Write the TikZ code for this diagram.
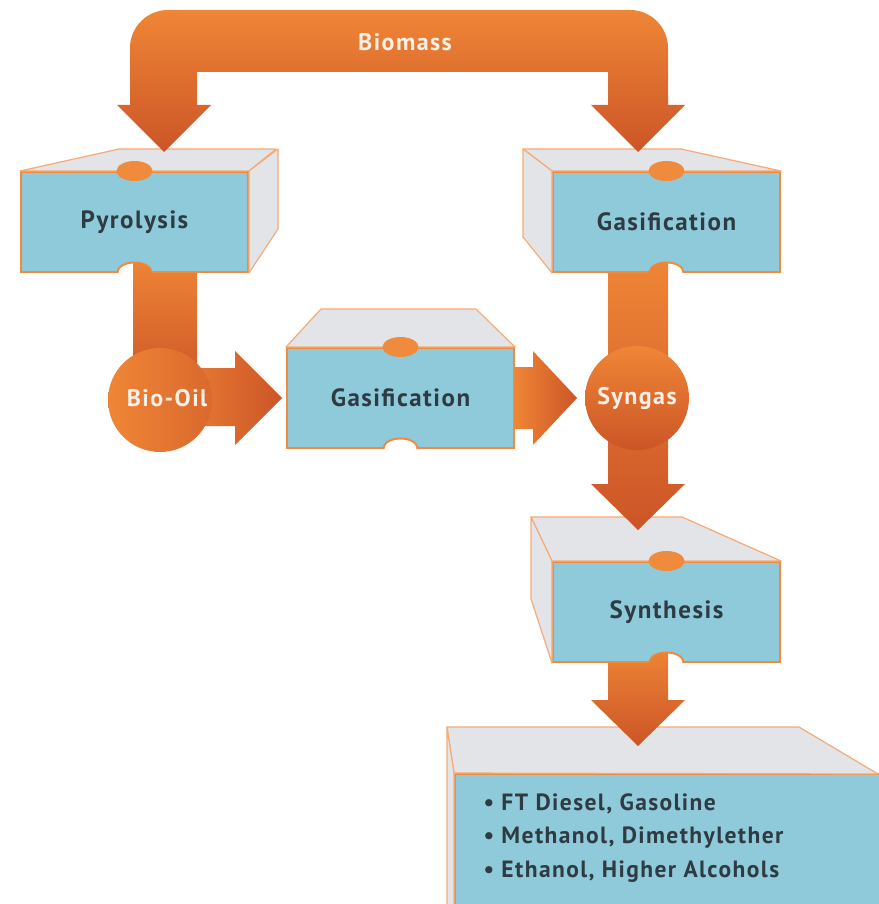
\documentclass[tikz,border=0pt]{standalone}
\usepackage{fontspec}
\setmainfont{PT Sans}
\newfontfamily\labelfont{PT Sans}[LetterSpace=6]
\usetikzlibrary{arrows,positioning,shapes,calc}

\definecolor{boxblue}{HTML}{8FCADA}
\definecolor{topgray}{HTML}{E2E4E7}
\definecolor{edgeorange}{HTML}{F08A3C}
\definecolor{lightedge}{HTML}{F5AB78}
\definecolor{flowtop}{HTML}{EF8636}
\definecolor{flowbot}{HTML}{CC5527}
\definecolor{labelgray}{HTML}{2F3B43}
\definecolor{flowtext}{HTML}{FBEFE6}

\tikzset{
	stage/.style={draw=edgeorange, line width=2pt, fill=boxblue, minimum width=227pt, minimum height=100pt,
		text=labelgray, font=\labelfont\bfseries\fontsize{25}{30}\selectfont},
	face/.style={draw=lightedge, line width=1.2pt, fill=topgray, line join=round},
	flowv/.style={top color=flowtop, bottom color=flowbot},
	flowh/.style={left color=flowtop, right color=flowbot},
	flowlabel/.style={text=flowtext, font=\labelfont\bfseries\fontsize{24}{28}\selectfont},
	hub/.style={circle, minimum size=104pt, inner sep=0pt, flowlabel},
	plug/.style={fill=edgeorange},
	bump/.style={draw=edgeorange, line width=2pt, fill=white}
}

\begin{document}
\begin{tikzpicture}[x=1pt,y=-1pt]
	\useasboundingbox (0,0) rectangle (878,904);

	% process boxes
	\node (pyro)  [stage] at (134.5,222) {Pyrolysis};
	\node (gasR)  [stage] at (666.5,222) {Gasification};
	\node (gasM)  [stage] at (400.5,398) {Gasification};
	\node (synth) [stage] at (666.5,612) {Synthesis};
	\node (fuels) [stage, minimum width=455pt, minimum height=160pt] at (682.5,854) {};
	\node (list) [anchor=west, align=left, text=labelgray, font=\labelfont\bfseries\fontsize{23.5}{33.5}\selectfont]
		at (480,838) {\textbullet\ FT Diesel, Gasoline\\ \textbullet\ Methanol, Dimethylether\\ \textbullet\ Ethanol, Higher Alcohols};

	% top and side faces
	\draw [face] (pyro.north west) -- ++(99,-22) -- ++(157,0) -- (pyro.north east) -- cycle;
	\draw [face] (pyro.north east) -- ++(29,-22) -- ++(0,80) -- (pyro.south east) -- cycle;
	\draw [face] (gasR.north west) -- ++(-29,-22) -- ++(158,0) -- (gasR.north east) -- cycle;
	\draw [face] (gasR.north west) -- ++(-29,-22) -- ++(0,88) -- (gasR.south west) -- cycle;
	\draw [face] (gasM.north west) -- ++(35,-38) -- ++(155,0) -- (gasM.north east) -- cycle;
	\draw [face] (synth.north west) -- ++(-21,-44) -- ++(151,0) -- (synth.north east) -- cycle;
	\draw [face] (synth.north west) -- ++(-21,-44) -- ++(0,82) -- (synth.south west) -- cycle;
	\draw [face] (fuels.north west) -- ++(-7,-46) -- ++(352,0) -- (878,774) -- cycle;
	\draw [face] (fuels.north west) -- ++(-7,-46) -- ++(0,190) -- ++(7,0) -- cycle;

	% notches
	\foreach \s in {pyro,gasR,gasM,synth} {
		\fill [plug] (\s.north) ellipse [x radius=18pt, y radius=10pt];
		\draw [bump, shift={(\s.south)}] (-17,0) .. controls (-17,-14) and (17,-14) .. (17,0);
	}

	% biomass feed
	\path [flowv] (130,105) -- (130,48) .. controls (130,27) and (147,10) .. (168,10)
		-- (630,10) .. controls (651,10) and (668,27) .. (668,48) -- (668,105)
		-- (685,105) -- (638,152) -- (591,105) -- (608,105) -- (608,72)
		-- (197,72) -- (197,105) -- (211,105) -- (164,152) -- (117,105) -- cycle;
	\node (biomass) at (405,42) [flowlabel] {Biomass};

	% bio-oil branch
	\begin{scope}
		\clip [shift={(pyro.south)}] (-17,0) .. controls (-17,-14) and (17,-14) .. (17,0)
			-- (200,0) -- (200,200) -- (-200,200) -- (-200,0) -- cycle;
		\path [flowv] (133,255) rectangle (197,390);
	\end{scope}
	\path [flowh] (160,368) -- (235,368) -- (235,351) -- (282,398) -- (235,445) -- (235,426) -- (160,426) -- cycle;
	\node (biooil) [hub, left color=flowtop, right color=flowbot!60!flowtop] at (160,400) {};
	\node at (167,398) [flowlabel] {Bio-Oil};
	\path [flowh] (gasM.east) ++(0,-31) -- (533,367) -- (533,351) -- (577,398) -- (533,445) -- (533,429) -- ++(-19,0) -- cycle;

	% syngas branch
	\begin{scope}
		\clip [shift={(gasR.south)}] (-17,0) .. controls (-17,-14) and (17,-14) .. (17,0)
			-- (200,0) -- (200,300) -- (-200,300) -- (-200,0) -- cycle;
		\path [flowv] (608,255) -- (668,255) -- (668,484) -- (685,484) -- (638,530) -- (591,484) -- (608,484) -- cycle;
	\end{scope}
	\node (syngas) [hub, top color=flowtop, bottom color=flowbot] at (637,398) {Syngas};

	% synthesis to fuels
	\begin{scope}
		\clip [shift={(synth.south)}] (-17,0) .. controls (-17,-14) and (17,-14) .. (17,0)
			-- (200,0) -- (200,200) -- (-200,200) -- (-200,0) -- cycle;
		\path [flowv] (608,645) -- (668,645) -- (668,700) -- (685,700) -- (638,746) -- (591,700) -- (608,700) -- cycle;
	\end{scope}
\end{tikzpicture}
\end{document}
